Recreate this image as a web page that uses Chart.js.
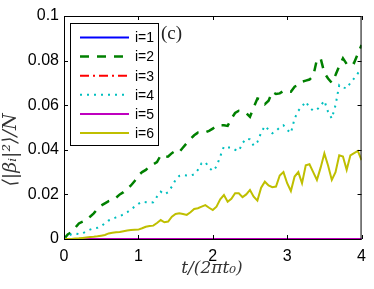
<!DOCTYPE html>
<html>
<head>
<meta charset="utf-8">
<script src="https://cdn.jsdelivr.net/npm/chart.js@4/dist/chart.umd.min.js"></script>
<style>
  html, body { margin: 0; padding: 0; background: #fff; }
  #wrap { width: 374px; height: 289px; }
</style>
</head>
<body>
<div id="wrap"><canvas id="grafico"></canvas></div>
<script>
// tempo t/(2*pi*t0)
const tValues = [0, 0.05, 0.1, 0.15, 0.2, 0.25, 0.3, 0.35, 0.4, 0.45,
  0.5, 0.55, 0.6, 0.65, 0.7, 0.75, 0.8, 0.85, 0.9, 0.95,
  1.0, 1.05, 1.1, 1.15, 1.2, 1.25, 1.3, 1.35, 1.4, 1.45,
  1.5, 1.55, 1.6, 1.65, 1.7, 1.75, 1.8, 1.85, 1.9, 1.95,
  2.0, 2.05, 2.1, 2.15, 2.2, 2.25, 2.3, 2.35, 2.4, 2.45,
  2.5, 2.55, 2.6, 2.65, 2.7, 2.75, 2.8, 2.85, 2.9, 2.95,
  3.0, 3.05, 3.1, 3.15, 3.2, 3.25, 3.3, 3.35, 3.4, 3.45,
  3.5, 3.55, 3.6, 3.65, 3.7, 3.75, 3.8, 3.85, 3.9, 3.95, 4.0];
const tEnds = [0, 4];

const serieI1 = [0, 0];
const serieI3 = [0, 0];
const serieI5 = [0, 0];

const serieI2 = [0, 0.002, 0.003, 0.005, 0.007, 0.0078, 0.0085, 0.010, 0.0115, 0.0135,
  0.015, 0.016, 0.017, 0.0175, 0.0185, 0.020, 0.021, 0.0225, 0.024, 0.026,
  0.0285, 0.030, 0.031, 0.0325, 0.0335, 0.0345, 0.0375, 0.0368, 0.037, 0.0385,
  0.0396, 0.039, 0.041, 0.043, 0.0448, 0.0465, 0.0477, 0.0475, 0.0478, 0.0485,
  0.0495, 0.0508, 0.051, 0.051, 0.0507, 0.054, 0.0565, 0.0575, 0.0572, 0.0565,
  0.0548, 0.059, 0.063, 0.0625, 0.0605, 0.062, 0.066, 0.065, 0.0653, 0.0664,
  0.066, 0.066, 0.0683, 0.069, 0.0705, 0.071, 0.0715, 0.073, 0.0805, 0.081,
  0.0745, 0.072, 0.070, 0.0735, 0.0775, 0.081, 0.0785, 0.080, 0.079, 0.083, 0.087];

const serieI4 = [0, 0.001, 0.0022, 0.0025, 0.0022, 0.0025, 0.0035, 0.0042, 0.0048, 0.005,
  0.0058, 0.007, 0.0083, 0.009, 0.0097, 0.0103, 0.011, 0.012, 0.0133, 0.0145,
  0.0158, 0.0167, 0.0165, 0.0163, 0.0165, 0.019, 0.0212, 0.020, 0.021, 0.0235,
  0.0265, 0.0283, 0.0287, 0.0285, 0.0284, 0.029, 0.031, 0.034, 0.0345, 0.032,
  0.0305, 0.0325, 0.037, 0.0415, 0.041, 0.041, 0.040, 0.0395, 0.043, 0.045,
  0.0447, 0.0418, 0.0435, 0.0477, 0.0507, 0.049, 0.0474, 0.0485, 0.050, 0.051,
  0.049, 0.0475, 0.054, 0.0575, 0.0595, 0.0616, 0.059, 0.0575, 0.058, 0.0598,
  0.062, 0.057, 0.054, 0.060, 0.069, 0.068, 0.0675, 0.070, 0.072, 0.0743, 0.0765];

const serieI6 = [0, 0, 0, 0.0002, 0.0003, 0.0005, 0.0007, 0.0009, 0.001, 0.0012,
  0.0015, 0.0018, 0.0025, 0.0028, 0.003, 0.0031, 0.0035, 0.0038, 0.004, 0.0041,
  0.0042, 0.0048, 0.0055, 0.0058, 0.006, 0.0072, 0.0085, 0.0075, 0.0078, 0.010,
  0.0112, 0.0115, 0.0112, 0.0108, 0.012, 0.0135, 0.0138, 0.0145, 0.0152, 0.014,
  0.013, 0.0145, 0.0178, 0.0197, 0.0167, 0.018, 0.0205, 0.0205, 0.0188, 0.020,
  0.022, 0.019, 0.0172, 0.023, 0.0257, 0.024, 0.0232, 0.0235, 0.0285, 0.030,
  0.025, 0.0215, 0.028, 0.030, 0.025, 0.033, 0.0335, 0.030, 0.0265, 0.032,
  0.0384, 0.033, 0.0265, 0.030, 0.0375, 0.037, 0.031, 0.0375, 0.0385, 0.0395, 0.0354];

const rotulos = ["i=1", "i=2", "i=3", "i=4", "i=5", "i=6"];

function pontos(xs, ys) {
    return xs.map((x, k) => ({ x: x, y: ys[k] }));
}

// legenda, caixa, ticks internos e titulos (estilo MATLAB)
const molduraPlugin = {
    id: "moldura",
    afterDraw(chart) {
        const ctx = chart.ctx;
        const a = chart.chartArea;
        const sx = chart.scales.x;
        const sy = chart.scales.y;
        ctx.save();

        // caixa do grafico
        ctx.strokeStyle = "#000";
        ctx.lineWidth = 1;
        ctx.setLineDash([]);
        ctx.strokeRect(a.left + 0.5, a.top + 0.5, a.right - a.left - 1, a.bottom - a.top);

        // ticks para dentro
        const tk = 4;
        ctx.beginPath();
        sx.ticks.forEach(t => {
            const px = Math.round(sx.getPixelForValue(t.value)) + 0.5;
            ctx.moveTo(px, a.bottom); ctx.lineTo(px, a.bottom - tk);
            ctx.moveTo(px, a.top); ctx.lineTo(px, a.top + tk);
        });
        sy.ticks.forEach(t => {
            const py = Math.round(sy.getPixelForValue(t.value)) + 0.5;
            ctx.moveTo(a.left, py); ctx.lineTo(a.left + tk, py);
            ctx.moveTo(a.right, py); ctx.lineTo(a.right - tk, py);
        });
        ctx.stroke();

        // legenda
        const lx = 70, ly = 23, lw = 88, lh = 122;
        ctx.fillStyle = "#fff";
        ctx.fillRect(lx, ly, lw, lh);
        ctx.strokeStyle = "#000";
        ctx.strokeRect(lx + 0.5, ly + 0.5, lw, lh);
        chart.data.datasets.forEach((ds, k) => {
            const yy = 37.5 + k * 19.1;
            ctx.beginPath();
            ctx.strokeStyle = ds.borderColor;
            ctx.lineWidth = ds.borderWidth;
            ctx.setLineDash(ds.borderDash || []);
            ctx.moveTo(80, yy);
            ctx.lineTo(129, yy);
            ctx.stroke();
            ctx.setLineDash([]);
            ctx.fillStyle = "#000";
            ctx.font = "14px 'Liberation Sans', Arial, sans-serif";
            ctx.textBaseline = "middle";
            ctx.textAlign = "left";
            ctx.fillText(ds.label, 135, yy + 1);
        });

        // (c)
        ctx.fillStyle = "#222";
        ctx.font = "19px 'Liberation Serif', serif";
        ctx.textAlign = "left";
        ctx.textBaseline = "middle";
        ctx.fillText("(c)", 161, 34);

        // titulos dos eixos
        ctx.fillStyle = "#333";
        ctx.font = "italic 17px 'DejaVu Serif', 'Liberation Serif', serif";
        ctx.textAlign = "center";
        ctx.textBaseline = "alphabetic";
        ctx.fillText("t/(2πt₀)", 212, 273);

        ctx.font = "italic 19px 'DejaVu Serif', 'Liberation Serif', serif";
        ctx.translate(16, 150);
        ctx.rotate(-Math.PI / 2);
        ctx.fillText("⟨|βᵢ|²⟩/N", 0, 0);
        ctx.restore();
    }
};

var ctxGrafico = document.getElementById("grafico").getContext("2d");

new Chart(ctxGrafico, {
    type: "line",
    data: {
        datasets: [
            { label: rotulos[0], data: pontos(tEnds, serieI1), borderColor: "#0000ff", borderWidth: 2 },
            { label: rotulos[1], data: pontos(tValues, serieI2), borderColor: "#008000", borderWidth: 2.5, borderDash: [9, 8] },
            { label: rotulos[2], data: pontos(tEnds, serieI3), borderColor: "#ff0000", borderWidth: 2, borderDash: [9, 4, 2, 4] },
            { label: rotulos[3], data: pontos(tValues, serieI4), borderColor: "#00bfbf", borderWidth: 2, borderDash: [2, 5] },
            { label: rotulos[4], data: pontos(tEnds, serieI5), borderColor: "#bf00bf", borderWidth: 2 },
            { label: rotulos[5], data: pontos(tValues, serieI6), borderColor: "#bfbf00", borderWidth: 2 }
        ].map((ds, k) => Object.assign(ds, {
            pointRadius: 0,
            fill: false,
            tension: 0,
            order: 6 - k
        }))
    },
    options: {
        responsive: true,
        maintainAspectRatio: false,
        animation: false,
        layout: { padding: { left: 0, right: 12, top: 16, bottom: 0 } },
        plugins: {
            legend: { display: false },
            tooltip: { enabled: false }
        },
        scales: {
            x: {
                type: "linear",
                min: 0,
                max: 4,
                ticks: {
                    stepSize: 1,
                    color: "#000",
                    padding: 8,
                    font: { family: "'Liberation Sans', Arial, sans-serif", size: 16 }
                },
                grid: { display: false, drawTicks: false },
                border: { display: false },
                afterFit(scale) { scale.height = 50; }
            },
            y: {
                min: 0,
                max: 0.1,
                ticks: {
                    stepSize: 0.02,
                    color: "#000",
                    padding: 5,
                    font: { family: "'Liberation Sans', Arial, sans-serif", size: 16 },
                    callback: v => String(+v.toFixed(2))
                },
                grid: { display: false, drawTicks: false },
                border: { display: false },
                afterFit(scale) { scale.width = 64; }
            }
        }
    },
    plugins: [molduraPlugin]
});
</script>
</body>
</html>
